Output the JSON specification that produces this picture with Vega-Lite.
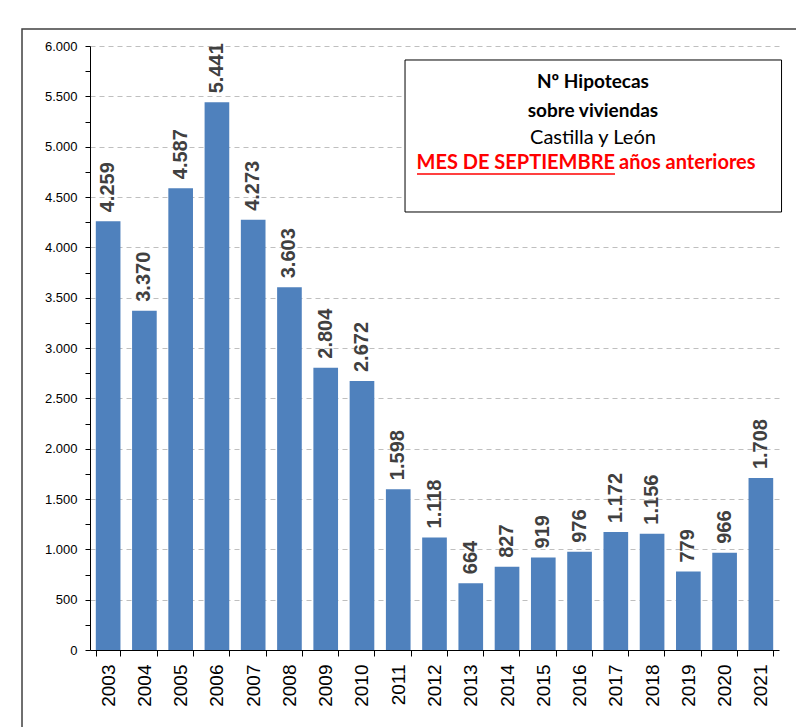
{
  "$schema": "https://vega.github.io/schema/vega-lite/v6.json",
  "width": 689,
  "height": 604,
  "autosize": "none",
  "padding": {"left": 90, "top": 46, "right": 17, "bottom": 77},
  "background": "white",
  "config": {
    "view": {"stroke": null},
    "locale": {"number": {"decimal": ",", "thousands": ".", "grouping": [3], "currency": ["", " €"]}}
  },
  "datasets": {
    "bars": [
      {"year": "2003", "value": 4259},
      {"year": "2004", "value": 3370},
      {"year": "2005", "value": 4587},
      {"year": "2006", "value": 5441},
      {"year": "2007", "value": 4273},
      {"year": "2008", "value": 3603},
      {"year": "2009", "value": 2804},
      {"year": "2010", "value": 2672},
      {"year": "2011", "value": 1598},
      {"year": "2012", "value": 1118},
      {"year": "2013", "value": 664},
      {"year": "2014", "value": 827},
      {"year": "2015", "value": 919},
      {"year": "2016", "value": 976},
      {"year": "2017", "value": 1172},
      {"year": "2018", "value": 1156},
      {"year": "2019", "value": 779},
      {"year": "2020", "value": 966},
      {"year": "2021", "value": 1708}
    ],
    "frame": [{"x": -1.875, "x2": 20, "y": 6169, "y2": -1200}],
    "box": [{"x": 8.687, "x2": 19.07, "y": 5861, "y2": 4351}],
    "heading": [
      {"x": 13.87, "y": 5642, "t": "Nº Hipotecas"},
      {"x": 13.87, "y": 5354, "t": "sobre viviendas"}
    ],
    "region": [{"x": 13.87, "y": 5086, "t": "Castilla y León"}],
    "month": [{"x": 14.478, "y": 4838, "t": "MES DE SEPTIEMBRE"}],
    "years": [{"x": 14.588, "y": 4838, "t": "años anteriores"}],
    "underline": [{"x": 9.017, "x2": 14.478, "y": 4728}]
  },
  "layer": [
    {
      "data": {"name": "bars"},
      "encoding": {
        "x": {
          "field": "year",
          "type": "ordinal",
          "scale": {"paddingInner": 0.32, "paddingOuter": 0.16},
          "axis": {
            "title": null,
            "labelAngle": -90,
            "labelFont": "Liberation Sans",
            "labelFontSize": 19,
            "labelColor": "#000000",
            "domainColor": "#000000",
            "tickColor": "#000000",
            "tickSize": 6,
            "tickBand": "extent",
            "labelPadding": 8
          }
        },
        "y": {
          "field": "value",
          "type": "quantitative",
          "scale": {"domain": [0, 6000], "nice": false},
          "axis": {
            "title": null,
            "values": [0, 250, 500, 750, 1000, 1250, 1500, 1750, 2000, 2250, 2500, 2750, 3000, 3250, 3500, 3750, 4000, 4250, 4500, 4750, 5000, 5250, 5500, 5750, 6000],
            "format": ",d",
            "labelExpr": "datum.value % 500 === 0 ? datum.label : ''",
            "labelFont": "Liberation Sans",
            "labelFontSize": 13,
            "labelColor": "#000000",
            "domainColor": "#000000",
            "tickColor": "#000000",
            "tickSize": 5,
            "labelPadding": 8,
            "gridColor": "#BFBFBF",
            "gridDash": [5, 4],
            "gridOpacity": {"condition": {"test": "datum.value % 500 === 0 && datum.value > 0", "value": 1}, "value": 0}
          }
        }
      },
      "layer": [
        {"mark": {"type": "bar", "color": "#4F81BD"}},
        {
          "mark": {"type": "text", "angle": 270, "align": "left", "baseline": "middle", "dx": 9, "font": "Liberation Sans", "fontWeight": "bold", "fontSize": 20, "color": "#404040"},
          "encoding": {"text": {"field": "value", "type": "quantitative", "format": ",d"}}
        }
      ]
    },
    {
      "layer": [
        {
          "data": {"name": "frame"},
          "mark": {"type": "rect", "fill": null, "stroke": "#404040", "strokeWidth": 1.5, "clip": false},
          "encoding": {
            "x": {"field": "x", "type": "quantitative", "scale": {"domain": [0, 19], "nice": false, "zero": false}, "axis": null},
            "x2": {"field": "x2"},
            "y": {"field": "y", "type": "quantitative", "scale": {"domain": [0, 6000], "nice": false}, "axis": null},
            "y2": {"field": "y2"}
          }
        },
        {
          "data": {"name": "box"},
          "mark": {"type": "rect", "fill": "white", "stroke": "#000000", "strokeWidth": 1},
          "encoding": {
            "x": {"field": "x", "type": "quantitative", "axis": null},
            "x2": {"field": "x2"},
            "y": {"field": "y", "type": "quantitative", "axis": null},
            "y2": {"field": "y2"}
          }
        },
        {
          "data": {"name": "heading"},
          "mark": {"type": "text", "font": "Lato", "fontWeight": "bold", "fontSize": 19, "color": "#000000", "align": "center", "baseline": "middle"},
          "encoding": {
            "x": {"field": "x", "type": "quantitative", "axis": null},
            "y": {"field": "y", "type": "quantitative", "axis": null},
            "text": {"field": "t"}
          }
        },
        {
          "data": {"name": "region"},
          "mark": {"type": "text", "font": "Lato", "fontSize": 20, "color": "#000000", "align": "center", "baseline": "middle"},
          "encoding": {
            "x": {"field": "x", "type": "quantitative", "axis": null},
            "y": {"field": "y", "type": "quantitative", "axis": null},
            "text": {"field": "t"}
          }
        },
        {
          "data": {"name": "month"},
          "mark": {"type": "text", "font": "Lato", "fontWeight": "bold", "fontSize": 20, "color": "#FF0000", "align": "right", "baseline": "middle"},
          "encoding": {
            "x": {"field": "x", "type": "quantitative", "axis": null},
            "y": {"field": "y", "type": "quantitative", "axis": null},
            "text": {"field": "t"}
          }
        },
        {
          "data": {"name": "years"},
          "mark": {"type": "text", "font": "Lato", "fontWeight": "bold", "fontSize": 20, "color": "#FF0000", "align": "left", "baseline": "middle"},
          "encoding": {
            "x": {"field": "x", "type": "quantitative", "axis": null},
            "y": {"field": "y", "type": "quantitative", "axis": null},
            "text": {"field": "t"}
          }
        },
        {
          "data": {"name": "underline"},
          "mark": {"type": "rule", "color": "#FF0000", "strokeWidth": 1.5},
          "encoding": {
            "x": {"field": "x", "type": "quantitative", "axis": null},
            "x2": {"field": "x2"},
            "y": {"field": "y", "type": "quantitative", "axis": null}
          }
        }
      ]
    }
  ],
  "resolve": {"scale": {"x": "independent", "y": "independent"}}
}
